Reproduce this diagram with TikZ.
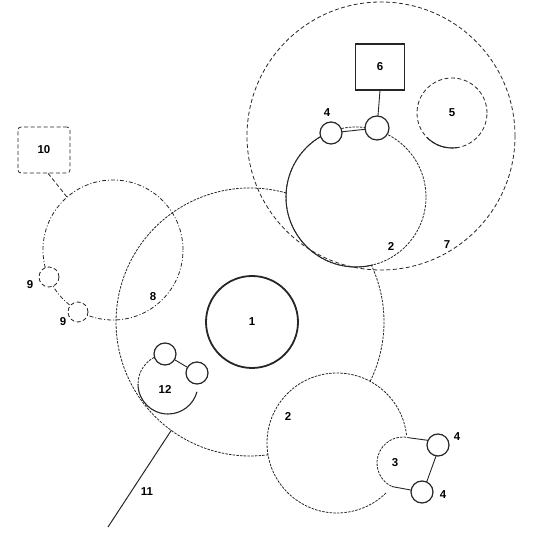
\documentclass[tikz,border=0pt]{standalone}
\usepackage{fontspec}
\setmainfont{Liberation Sans}
\begin{document}
\begin{tikzpicture}[x=1bp,y=1bp,
  ink/.style={draw=black!85},
  solidc/.style={ink, line width=1.2bp},
  thickc/.style={ink, line width=1.8bp},
  thinc/.style={ink, line width=0.8bp, dash pattern=on 2.5bp off 1.2bp},
  dashc/.style={ink, line width=0.8bp, dash pattern=on 4bp off 2.5bp},
  dotdash/.style={ink, line width=0.8bp, dash pattern=on 4bp off 2bp on 1bp off 2bp},
  ring/.style={circle, inner sep=0pt, outer sep=0pt, minimum size=#1},
  lbl/.style={inner sep=0pt},
  every node/.append style={font=\fontsize{11.5}{13}\selectfont\bfseries},
]
\useasboundingbox (0,0) rectangle (541,534);

% big circle (no border, drawn as arcs)
\node[ring=268bp] (c0) at (250,212) {};
\draw[thinc] (c0.center) ++(74.3:134) arc[start angle=74.3, end angle=277.7, radius=134];
\draw[thinc] (c0.center) ++(-26.3:134) arc[start angle=-26.3, end angle=25.1, radius=134];

% circle 1
\node[ring=92bp, thickc] (c1) at (252,212) {1};

% lower circle 2
\node[ring=140bp] (c2b) at (337,91) {};
\draw[thinc] (c2b.center) ++(6.5:70) arc[start angle=6.5, end angle=314.4, radius=70];
\node[lbl] (l2b) at (288,117) {2};

% circle 7
\node[ring=268bp, dashc] (c7) at (381,398) {};
\node[lbl] (l7) at (447,289) {7};

% upper circle 2
\node[ring=140bp, thinc] (c2u) at (356,337) {};
\draw[ink, line width=1bp] (c2u.center) ++(115:70) arc[start angle=115, end angle=284, radius=70];
\node[lbl] (l2u) at (391,287) {2};

% circle 5
\node[ring=70bp, dashc] (c5) at (452,421) {5};
\draw[ink, line width=1.1bp] (c5.center) ++(224:35) arc[start angle=224, end angle=278, radius=35];

% box 6 and small circles 4
\node[solidc, minimum width=49bp, minimum height=46bp, inner sep=0pt] (b6) at (380,467) {6};
\node[ring=22bp, solidc, fill=white] (s4a) at (331,401) {};
\node[ring=24bp, solidc, fill=white] (s4b) at (377,406) {};
\draw[ink, line width=0.9bp] (s4a) -- (s4b);
\draw[ink, line width=0.9bp] (b6.south) -- (s4b);
\node[lbl] (l4a) at (327,421) {4};

% circle 8, box 10, circles 9
\node[ring=140bp, dotdash] (c8) at (113,284) {};
\node[lbl] (l8) at (153,237) {8};
\node[dashc, rounded corners=3bp, minimum width=52bp, minimum height=46bp, inner sep=0pt] (b10) at (44,384) {10};
\draw[dashc] (b10.-80) -- (c8.131);
\node[ring=20bp, dashc, fill=white] (s9a) at (49,257) {};
\node[ring=20bp, dashc, fill=white] (s9b) at (78,222) {};
\node[lbl] (l9a) at (30,249) {9};
\node[lbl] (l9b) at (63,212) {9};

% circle 12
\node[ring=60bp] (c12) at (168,150) {};
\draw[thinc] (c12.center) ++(110:30) arc[start angle=110, end angle=180, radius=30];
\draw[ink, line width=1.1bp] (c12.center) ++(180:30) arc[start angle=180, end angle=345, radius=30];
\node[ring=22bp, solidc, fill=white] (s12a) at (165,180) {};
\node[ring=22bp, solidc, fill=white] (s12b) at (197,161) {};
\draw[ink, line width=0.9bp] (s12a) -- (s12b);
\node[lbl] (l12) at (165,144) {12};

% circle 3 with small circles 4
\node[ring=52bp] (c3) at (403,71) {};
\draw[thinc] (c3.center) ++(75:26) arc[start angle=75, end angle=245, radius=26];
\node[ring=22bp, solidc, fill=white] (s4c) at (438,89) {};
\node[ring=22bp, solidc, fill=white] (s4d) at (422,42) {};
\draw[ink, line width=0.9bp] (c3.75) -- (s4c.155);
\draw[ink, line width=0.9bp] (c3.245) -- (s4d.170);
\draw[ink, line width=0.9bp] (s4c.-100) -- (s4d.65);
\node[lbl] (l3) at (395,71) {3};
\node[lbl] (l4c) at (457,97) {4};
\node[lbl] (l4d) at (443,39) {4};

% line 11
\coordinate (e11) at (108,7);
\draw[ink, line width=1bp] (c0.234) -- (e11);
\node[lbl] (l11) at (147,42) {11};
\end{tikzpicture}
\end{document}
